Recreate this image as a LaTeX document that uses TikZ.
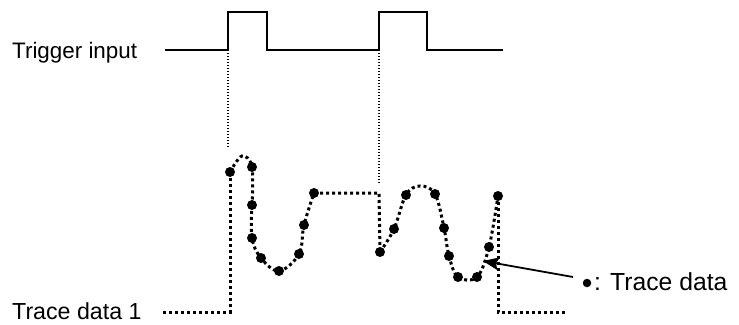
\documentclass[tikz,border=0pt]{standalone}
\usepackage{fontspec}
\setmainfont{Liberation Sans}
\usetikzlibrary{arrows.meta}

\begin{document}
\begin{tikzpicture}[x=1pt,y=-1pt]
\tikzstyle{dot}= [circle, inner sep=0pt, fill=black, minimum size=10pt]
\tikzstyle{lbl}= [inner sep=0pt, anchor=base west]
\tikzstyle{trace}= [line width=3pt, dash pattern=on 3pt off 3pt]
\tikzstyle{guide}= [line width=1.4pt, dash pattern=on 1.4pt off 1.6pt]
\useasboundingbox (0,0) rectangle (739,324);
%labels
\node[lbl, font=\fontsize{22.4}{26}\selectfont] (trig) at (12,58) {Trigger input};
\node[lbl, font=\fontsize{23.2}{27}\selectfont] (trd) at (12,319) {Trace data 1};
%trigger input
\coordinate (t0) at (165,50);
\coordinate (t1) at (228,50);
\coordinate (t2) at (379,50);
\coordinate (t3) at (503,50);
\draw[line width=2.6pt] (t0) -- (t1) |- (267,12) |- (t2) |- (427,12) |- (t3);
%guides
\draw[guide] (t1) -- (228,148);
\draw[guide] (t2) -- (379,183);
%trace points
\foreach \n/\x/\y in {1/230/172, 2/252/167, 3/252/205, 4/252/238, 5/261/258, 6/279/271,
  7/299/254, 8/304/225, 9/314/193, 10/380/252, 11/394/229, 12/406/195, 13/435/194,
  14/444/228, 15/449/256, 16/458/277, 17/477/277, 18/489/247, 19/498/196}
  \node[dot] (d\n) at (\x,\y) {};
%trace data 1
\coordinate (s0) at (163,312);
\coordinate (s1) at (567,312);
\draw[trace] (s0) -| (d1.center);
\draw[trace] plot[smooth, tension=0.6] coordinates {(d1.center) (242,156) (d2.center) (d3.center)};
\draw[trace] plot[smooth, tension=0.6] coordinates {(d3.center) (d4.center) (d5.center) (d6.center)
  (d7.center) (d8.center) (d9.center)};
\draw[trace] (d9.center) -- (379,193) -- (d10.center);
\draw[trace] plot[smooth, tension=0.6] coordinates {(d10.center) (d11.center) (d12.center) (420,186)
  (d13.center) (d14.center) (d15.center) (d16.center) (d17.center) (d18.center) (d19.center)};
\draw[trace] (d19.center) |- (s1);
%legend
\node[dot, minimum size=8.5pt] (ld) at (587,283) {};
\node[lbl, font=\fontsize{24.7}{29}\selectfont] (legend) at (594,290) {: Trace data};
\coordinate (ar) at (483,261);
\draw[line width=1.8pt, -{Stealth[length=16pt, width=13pt, inset=3pt]}] (573,277) -- (ar);
\end{tikzpicture}
\end{document}
